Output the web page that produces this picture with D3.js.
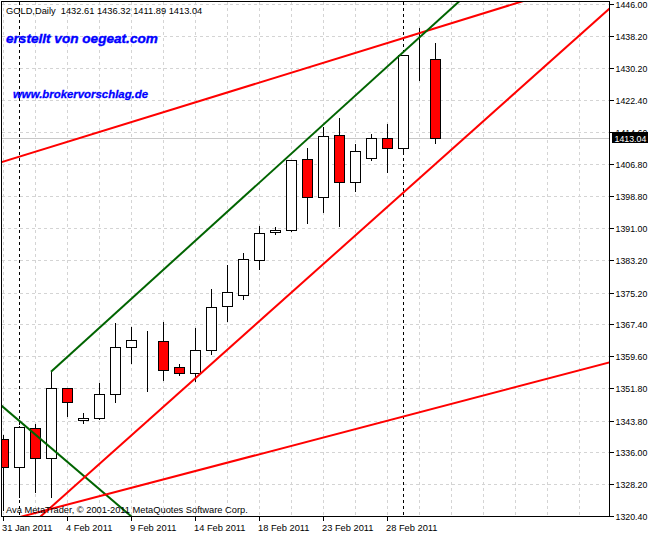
<!DOCTYPE html>
<html><head><meta charset="utf-8">
<script src="https://cdn.jsdelivr.net/npm/d3@7/dist/d3.min.js"></script>
<style>
body{margin:0;background:#fff}
svg{display:block}
text{font-family:"Liberation Sans",Arial,sans-serif}
</style>
</head><body>
<svg id="chart" width="648" height="535"></svg>
<script>
// ---- data ----
const barDates = ["31 Jan 2011","1 Feb 2011","2 Feb 2011","3 Feb 2011","4 Feb 2011","6 Feb 2011","7 Feb 2011","8 Feb 2011","9 Feb 2011","10 Feb 2011","11 Feb 2011","13 Feb 2011","14 Feb 2011","15 Feb 2011","16 Feb 2011","17 Feb 2011","18 Feb 2011","20 Feb 2011","21 Feb 2011","22 Feb 2011","23 Feb 2011","24 Feb 2011","25 Feb 2011","27 Feb 2011","28 Feb 2011","1 Mar 2011","2 Mar 2011","3 Mar 2011"];
const opens  = [1339.22,1332.35,1341.91,1334.55,1351.73,1343.88,1344.37,1350.26,1361.78,1363.40,1363.26,1356.88,1355.36,1361.05,1371.84,1374.54,1383.13,1390.00,1390.49,1407.90,1398.73,1413.79,1402.26,1408.15,1413.05,1410.60,1432.56,1432.61];
const highs  = [1340.27,1342.40,1342.97,1355.80,1351.80,1345.59,1352.95,1367.67,1366.69,1365.71,1367.92,1357.62,1366.45,1376.09,1381.97,1384.92,1391.61,1391.37,1407.70,1410.60,1415.75,1417.96,1411.58,1414.04,1416.51,1433.50,1440.04,1436.32];
const lows   = [1321.87,1325.14,1326.36,1324.99,1345.01,1343.14,1344.30,1348.29,1357.86,1350.99,1353.69,1354.92,1353.40,1360.21,1368.31,1373.63,1381.07,1389.51,1390.40,1392.35,1395.05,1391.61,1400.05,1407.66,1404.71,1409.38,1427.36,1411.89];
const closes = [1332.35,1342.16,1334.55,1351.73,1348.29,1344.37,1350.26,1361.78,1363.50,1363.40,1356.14,1355.41,1361.05,1371.60,1375.28,1383.37,1389.75,1390.49,1407.66,1398.73,1413.55,1402.26,1409.87,1413.05,1410.60,1433.42,1432.56,1413.04];
const yTickLabels = ["1446.00","1438.20","1430.20","1422.40","1414.60","1406.80","1398.80","1391.00","1383.20","1375.20","1367.40","1359.60","1351.80","1343.80","1336.00","1328.20","1320.40"];
const xTickLabels = ["31 Jan 2011","4 Feb 2011","9 Feb 2011","14 Feb 2011","18 Feb 2011","23 Feb 2011","28 Feb 2011"];
const xTickIndex = [0,4,8,12,16,20,24];
const separatorIndex = [1,25];          // month starts (1 Feb, 1 Mar)
const lastPrice = 1413.04;
// trend lines: anchor points [bar index, price]
const greenChannelTop = [[3,1355.80],[28.4,1446.25]];
const greenDown       = [[-0.02,1347.20],[8.08,1320.10]];
const redUpper        = [[-0.06,1407.24],[32.13,1446.25]];
const redMiddle       = [[2.31,1320.15],[37.94,1445.00]];
const redLower        = [[1.06,1320.15],[37.94,1358.10]];

// ---- layout ----
const W = 648, H = 535;
const plotL = 2, plotT = 2, plotR = 610, plotB = 517;
const axisFont = "8.8px";
const svg = d3.select("#chart");
svg.append("rect").attr("width",W).attr("height",H).attr("fill","#fff");

const x = d3.scaleLinear().domain([0, 38]).range([3, 3 + 16*38]);
const y = d3.scaleLinear().domain([1320.4, 1446.0]).range([516, 4]);
const px = v => Math.round(x(v)) + 0.5;
const py = v => Math.round(y(v)) + 0.5;

const defs = svg.append("defs");
defs.append("clipPath").attr("id","plotClip").append("rect")
  .attr("x",plotL).attr("y",plotT).attr("width",plotR-plotL).attr("height",plotB-plotT);
const plot = svg.append("g").attr("clip-path","url(#plotClip)");

// grid
const gridColor = "#d4d4d4";
plot.append("g").selectAll("line").data(yTickLabels).join("line")
  .attr("x1",plotL).attr("x2",plotR)
  .attr("y1",d=>py(+d)).attr("y2",d=>py(+d))
  .attr("stroke",gridColor).attr("stroke-dasharray","3,3");
const vGrid = d3.range(0, 38, 2);
plot.append("g").selectAll("line").data(vGrid).join("line")
  .attr("x1",d=>px(d)).attr("x2",d=>px(d))
  .attr("y1",plotT).attr("y2",plotB)
  .attr("stroke",gridColor).attr("stroke-dasharray","3,3");

// bid line
plot.append("line").attr("x1",plotL).attr("x2",plotR)
  .attr("y1",py(lastPrice)).attr("y2",py(lastPrice))
  .attr("stroke","#c8c8c8").attr("stroke-width",1);

// period separators
plot.append("g").selectAll("line").data(separatorIndex).join("line")
  .attr("x1",d=>px(d)).attr("x2",d=>px(d))
  .attr("y1",plotT).attr("y2",plotB)
  .attr("stroke","#000").attr("stroke-dasharray","3,3");

// candles
const bars = barDates.map((d,i)=>({i, d, o:opens[i], h:highs[i], l:lows[i], c:closes[i]}));
const cg = plot.append("g");
cg.selectAll("line.wick").data(bars).join("line").attr("class","wick")
  .attr("x1",d=>px(d.i)).attr("x2",d=>px(d.i))
  .attr("y1",d=>Math.round(y(d.h))).attr("y2",d=>Math.round(y(d.l))+1)
  .attr("stroke","#000").attr("stroke-width",1);
cg.selectAll("rect.body").data(bars).join("rect").attr("class","body")
  .attr("x",d=>px(d.i)-5)
  .attr("width",10)
  .attr("y",d=>Math.round(y(Math.max(d.o,d.c)))+0.5)
  .attr("height",d=>Math.max(0, Math.round(y(Math.min(d.o,d.c))) - Math.round(y(Math.max(d.o,d.c)))))
  .attr("fill",d=>d.c < d.o ? "#ff0000" : "#ffffff")
  .attr("stroke","#000").attr("stroke-width",d=>d.o===d.c?2:1);

// trend lines
function drawTrend(anchors, color, startAtFirst){
  const [[k1,v1],[k2,v2]] = anchors;
  const m = (v2-v1)/(k2-k1);
  const ks = startAtFirst ? k1 : -3;
  const ke = 42;
  plot.append("line")
    .attr("x1",x(ks)).attr("y1",y(v1 + m*(ks-k1)))
    .attr("x2",x(ke)).attr("y2",y(v1 + m*(ke-k1)))
    .attr("stroke",color).attr("stroke-width",2).attr("stroke-linecap","butt");
}
drawTrend(greenDown, "#006400", false);
drawTrend(redLower, "#ff0000", false);
drawTrend(redMiddle, "#ff0000", false);
drawTrend(redUpper, "#ff0000", false);
drawTrend(greenChannelTop, "#006400", true);

// texts inside plot
svg.append("text").attr("x",6).attr("y",14).attr("font-size","9.3px").attr("fill","#000")
  .style("white-space","pre")
  .text("GOLD,Daily  " + [opens[27],highs[27],lows[27],closes[27]].map(v=>v.toFixed(2)).join(" "));
svg.append("text").attr("x",6).attr("y",43).attr("font-size","13.6px")
  .attr("font-weight","bold").attr("font-style","italic").attr("fill","#0000ff")
  .attr("stroke","#0000ff").attr("stroke-width",0.4)
  .text("erstellt von oegeat.com");
svg.append("text").attr("x",13).attr("y",98).attr("font-size","11.4px")
  .attr("font-weight","bold").attr("font-style","italic").attr("fill","#0000ff")
  .attr("stroke","#0000ff").attr("stroke-width",0.3)
  .text("www.brokervorschlag.de");
svg.append("text").attr("x",6).attr("y",512.5).attr("font-size","9.3px").attr("fill","#000")
  .text("Ava MetaTrader, © 2001-2011 MetaQuotes Software Corp.");

// frame
svg.append("rect").attr("x",plotL-0.5).attr("y",plotT-0.5)
  .attr("width",plotR-plotL).attr("height",plotB-plotT)
  .attr("fill","none").attr("stroke","#000").attr("stroke-width",1);

// y axis (right)
const ya = svg.append("g");
ya.selectAll("line").data(yTickLabels).join("line")
  .attr("x1",plotR).attr("x2",plotR+4)
  .attr("y1",d=>py(+d)).attr("y2",d=>py(+d)).attr("stroke","#000");
ya.selectAll("text").data(yTickLabels).join("text")
  .attr("x",615.5).attr("y",d=>Math.round(y(+d))+3.5)
  .attr("font-size",axisFont).attr("fill","#000").text(d=>d);
// last price label
const lpY = Math.round(y(lastPrice));
svg.append("rect").attr("x",612).attr("y",lpY-6).attr("width",36).attr("height",11).attr("fill","#000");
svg.append("text").attr("x",614.5).attr("y",lpY+3.5).attr("font-size",axisFont).attr("fill","#fff")
  .text(lastPrice.toFixed(2));

// x axis (bottom)
const xa = svg.append("g");
xa.selectAll("line").data(xTickIndex).join("line")
  .attr("x1",d=>px(d)).attr("x2",d=>px(d))
  .attr("y1",plotB).attr("y2",plotB+4).attr("stroke","#000");
xa.selectAll("text").data(xTickIndex).join("text")
  .attr("x",d=>Math.round(x(d))-1).attr("y",530.5)
  .attr("font-size","9.3px").attr("fill","#000").text((d,i)=>xTickLabels[i]);
</script>
</body></html>
